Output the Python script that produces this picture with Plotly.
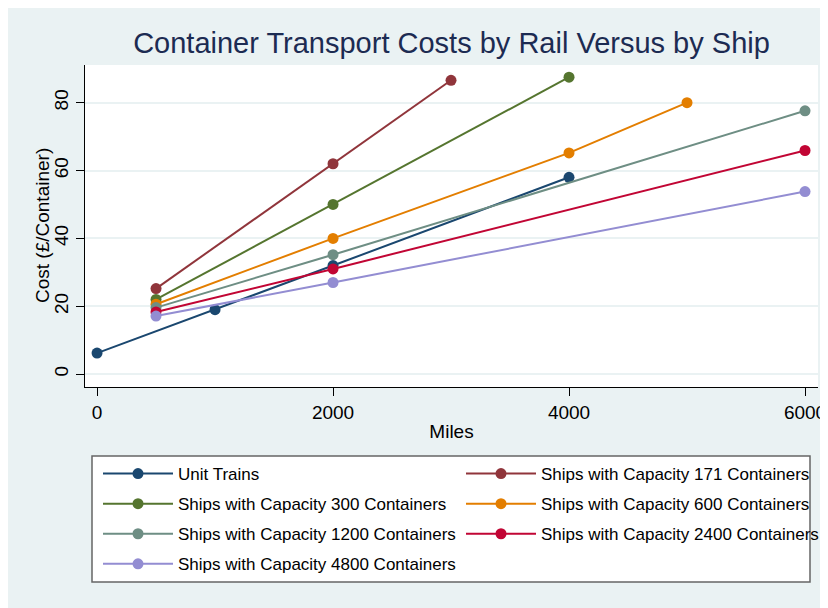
import plotly.graph_objects as go

# Data (miles vs cost in £ per container)
train_miles = [0, 1000, 2000, 4000]
train_cost = [6.2, 19, 32, 58]

ship171_miles = [500, 2000, 3000]
ship171_cost = [25.2, 62, 86.6]

ship300_miles = [500, 2000, 4000]
ship300_cost = [22, 50, 87.5]

ship600_miles = [500, 2000, 4000, 5000]
ship600_cost = [20.6, 40, 65.2, 80]

ship1200_miles = [500, 2000, 6000]
ship1200_cost = [19.6, 35.2, 77.6]

ship2400_miles = [500, 2000, 6000]
ship2400_cost = [18.3, 31, 65.9]

ship4800_miles = [500, 2000, 6000]
ship4800_cost = [17.1, 27, 53.8]

BG = '#eaf2f3'
# page body has an 8px margin, so the figure itself is 820x600
W, H = 820, 600
L, R, T, B = 77, 10, 57, 221
PW, PH = W - L - R, H - T - B
OFF = 8


# helpers take screen pixel positions (as measured on the reference)
def px_x(s):
    return (s - OFF - L) / PW


def px_y(s):
    return (H - B - (s - OFF)) / PH


series = [
    ('Unit Trains', train_miles, train_cost, '#1a476f', 'legend'),
    ('Ships with Capacity 171 Containers', ship171_miles, ship171_cost, '#90353b', 'legend2'),
    ('Ships with Capacity 300 Containers', ship300_miles, ship300_cost, '#55752f', 'legend'),
    ('Ships with Capacity 600 Containers', ship600_miles, ship600_cost, '#e37e00', 'legend2'),
    ('Ships with Capacity 1200 Containers', ship1200_miles, ship1200_cost, '#6e8e84', 'legend'),
    ('Ships with Capacity 2400 Containers', ship2400_miles, ship2400_cost, '#c10534', 'legend2'),
    ('Ships with Capacity 4800 Containers', ship4800_miles, ship4800_cost, '#938dd2', 'legend'),
]

fig = go.Figure()
for i, (name, xs, ys, color, leg) in enumerate(series):
    fig.add_trace(go.Scatter(
        x=xs, y=ys, name=name, mode='lines+markers',
        line=dict(color=color, width=2),
        marker=dict(color=color, size=11),
        legend=leg, legendgroup=f'g{i}',
    ))

font = 'Liberation Sans, Arial, sans-serif'
legend_common = dict(
    orientation='v', bgcolor='rgba(0,0,0,0)', borderwidth=0,
    font=dict(family=font, size=17, color='black'),
    xanchor='left', yanchor='top', tracegroupgap=5, itemwidth=70,
)

fig.update_layout(
    width=W, height=H,
    margin=dict(l=L, r=R, t=T, b=B, autoexpand=False),
    paper_bgcolor=BG, plot_bgcolor='white',
    font=dict(family=font, color='black'),
    title=dict(text='Container Transport Costs by Rail Versus by Ship',
               font=dict(family=font, size=29, color='#1c2b52'),
               x=0.5, xref='paper', y=1 - 35 / H, yanchor='middle'),
    xaxis=dict(range=[-102, 6110], tickvals=[0, 2000, 4000, 6000], automargin=False,
               showgrid=False, zeroline=False, showline=True, linecolor='black', linewidth=1,
               ticks='outside', ticklen=8, tickcolor='black',
               tickfont=dict(size=19), title=dict(text='Miles', font=dict(size=19), standoff=2)),
    yaxis=dict(range=[-3.8, 91.1], tickvals=[0, 20, 40, 60, 80], tickangle=-90, automargin=False,
               showgrid=True, gridcolor=BG, gridwidth=2, zeroline=False,
               showline=True, linecolor='black', linewidth=1,
               ticks='outside', ticklen=8, tickcolor='black',
               tickfont=dict(size=19)),
    legend=dict(x=px_x(98), y=px_y(456), **legend_common),
    legend2=dict(x=px_x(461), y=px_y(456), **legend_common),
    annotations=[
        dict(text='Cost (£/Container)', textangle=-90, xref='paper', yref='paper',
             x=px_x(42), y=0.5, xanchor='center', yanchor='middle', showarrow=False,
             font=dict(size=19)),
    ],
    shapes=[
        dict(type='rect', xref='paper', yref='paper', x0=px_x(92), x1=px_x(810), y0=px_y(582), y1=px_y(456),
             fillcolor='white', line=dict(color='#666666', width=1.5), layer='below'),
    ],
)

fig.write_html("out.html")
